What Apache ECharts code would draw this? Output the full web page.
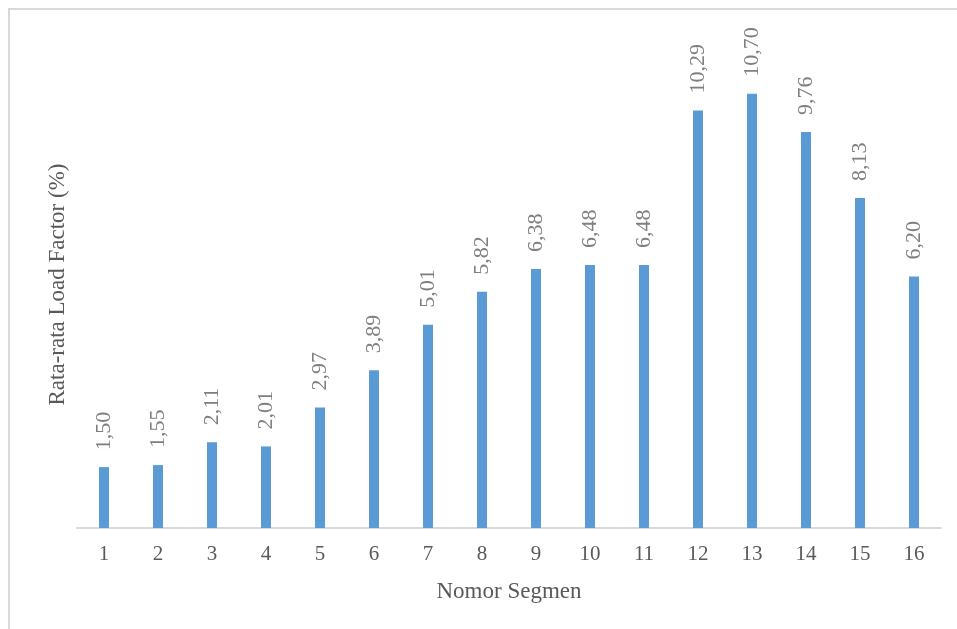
<!DOCTYPE html>
<html>
<head>
<meta charset="utf-8">
<script src="https://cdn.jsdelivr.net/npm/echarts@6/dist/echarts.min.js"></script>
<style>
html,body{margin:0;padding:0;background:#fff;}
#chart{width:957px;height:629px;}
</style>
</head>
<body>
<div id="chart"></div>
<script>
const categories = ['1','2','3','4','5','6','7','8','9','10','11','12','13','14','15','16'];
const values = [1.50,1.55,2.11,2.01,2.97,3.89,5.01,5.82,6.38,6.48,6.48,10.29,10.70,9.76,8.13,6.20];
const xAxisTitle = 'Nomor Segmen';
const yAxisTitle = 'Rata-rata Load Factor (%)';

const font = '"Liberation Serif","Times New Roman",serif';
const chart = echarts.init(document.getElementById('chart'));
chart.setOption({
  animation: false,
  backgroundColor: '#ffffff',
  graphic: [{
    type: 'rect',
    shape: {x: 9, y: 9, width: 980, height: 660},
    style: {fill: 'none', stroke: '#d9d9d9', lineWidth: 2},
    silent: true
  }],
  grid: {left: 77, right: 16, top: 41, bottom: 101},
  xAxis: {
    type: 'category',
    data: categories,
    name: xAxisTitle,
    nameLocation: 'middle',
    nameGap: 52,
    nameTextStyle: {fontFamily: font, fontSize: 23, color: '#595959'},
    axisLine: {lineStyle: {color: '#d9d9d9', width: 2}},
    axisTick: {show: false},
    axisLabel: {fontFamily: font, fontSize: 21, color: '#595959', margin: 16}
  },
  yAxis: {
    type: 'value',
    min: 0, max: 12,
    name: yAxisTitle,
    nameLocation: 'middle',
    nameRotate: 90,
    nameGap: 8,
    nameTextStyle: {fontFamily: font, fontSize: 23, color: '#595959'},
    axisLine: {show: false},
    axisTick: {show: false},
    axisLabel: {show: false},
    splitLine: {show: false}
  },
  series: [{
    type: 'bar',
    data: values,
    barWidth: 10,
    itemStyle: {color: '#5b9bd5'},
    label: {
      show: true,
      position: 'top',
      rotate: 90,
      align: 'left',
      verticalAlign: 'middle',
      distance: 17,
      fontFamily: font,
      fontSize: 22,
      color: '#7f7f7f',
      formatter: p => p.value.toFixed(2).replace('.', ',')
    }
  }]
});
</script>
</body>
</html>
